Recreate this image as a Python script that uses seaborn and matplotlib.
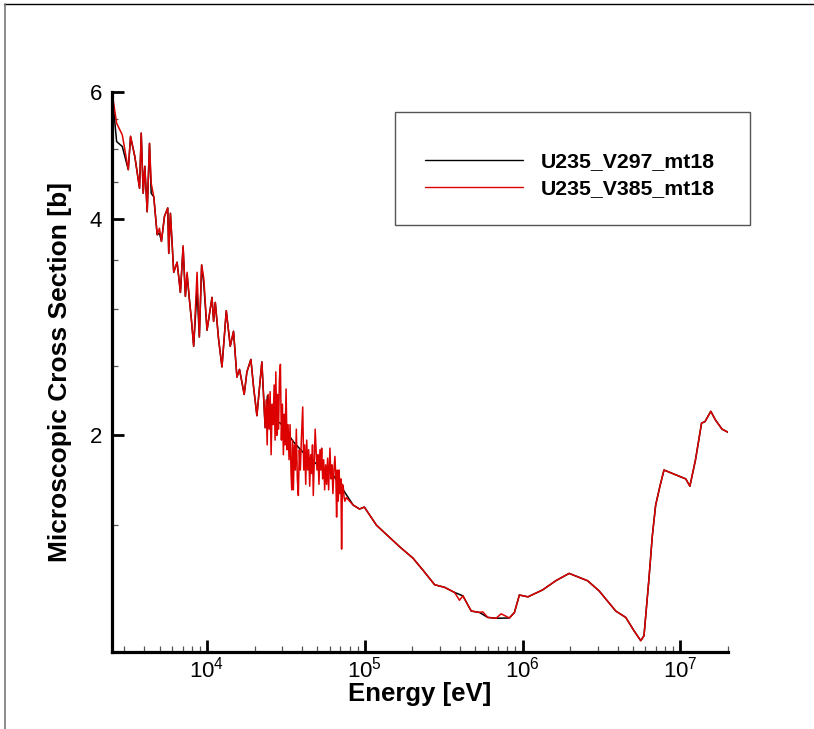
import matplotlib
matplotlib.use("Agg")
import numpy as np
import pandas as pd
import matplotlib.pyplot as plt
from matplotlib.lines import Line2D
from matplotlib.patches import Rectangle
from matplotlib.ticker import (FixedLocator, FixedFormatter, LogLocator,
                               NullFormatter, LogFormatterSciNotation)
import seaborn as sns

# ---- U-235 fission (MT18) cross section, two library versions ----
# resolved / unresolved resonance region below ~23 keV (same energy grid)
low_energy = [2500, 2674, 2905, 3170, 3277, 3488, 3736, 3830, 3942, 4035,
              4178, 4320, 4429, 4600, 4832, 4996, 5144, 5374, 5638, 5721,
              5863, 6152, 6464, 6782, 7054, 7294, 7477, 7731, 7959, 8231,
              8647, 8941, 9245, 9545, 10000, 10754, 11008, 11284, 11838, 12437,
              13245, 14033, 14723, 15470, 16066, 17202, 17893, 18966, 19700, 20700,
              22258]
low_v297 = [6.00, 5.12, 5.04, 4.68, 5.20, 4.88, 4.41, 5.26, 4.34, 4.73,
            4.09, 5.09, 4.34, 4.29, 3.80, 3.82, 3.72, 4.03, 4.14, 3.58,
            4.07, 3.37, 3.48, 3.16, 3.65, 3.12, 3.34, 3.09, 2.90, 2.66,
            3.19, 2.74, 3.45, 3.24, 2.80, 3.11, 2.88, 3.06, 2.72, 2.49,
            2.98, 2.66, 2.79, 2.41, 2.47, 2.28, 2.45, 2.55, 2.34, 2.13,
            2.53]
low_v385 = [6.00, 5.43, 5.23, 4.68, 5.21, 4.88, 4.41, 5.26, 4.34, 4.73,
            4.09, 5.09, 4.48, 4.29, 3.80, 3.88, 3.72, 4.03, 4.14, 3.58,
            4.07, 3.37, 3.48, 3.16, 3.67, 3.12, 3.37, 3.09, 2.90, 2.66,
            3.37, 2.74, 3.45, 3.30, 2.80, 3.11, 2.88, 3.06, 2.72, 2.49,
            2.98, 2.66, 2.79, 2.41, 2.47, 2.28, 2.45, 2.55, 2.34, 2.13,
            2.53]

# 23 keV - 100 keV: smooth in V297, fluctuating in V385
mid_energy_v297 = [23357, 24150, 25114, 26345, 29170, 35240, 42820, 51950,
                   63050, 72920, 84360, 92570, 99270]
mid_v297 = [2.05, 2.27, 2.14, 2.10, 2.08, 1.96, 1.87, 1.81,
            1.76, 1.68, 1.60, 1.58, 1.59]

mid_energy_v385 = [23357, 23700, 24050, 24400, 24750, 25110, 25480, 25850, 26230, 26620,
                   27000, 27280, 27680, 28000, 28410, 28750, 29170, 29600, 30030, 30470,
                   30870, 31230, 31690, 32150, 32620, 33100, 33580, 34080, 34420, 34830,
                   35240, 35760, 36280, 36810, 37350, 37900, 38450, 39020, 39590, 40400,
                   41000, 41600, 42210, 42820, 43450, 44080, 44730, 45380, 46050, 46590,
                   47130, 47820, 48450, 49740, 50460, 51200, 51950, 52710, 53250, 54030,
                   54830, 55630, 56440, 57270, 58110, 58960, 60090, 60970, 61860, 62770,
                   63690, 64620, 65570, 66240, 67020, 67800, 68690, 69500, 70520, 71240,
                   72070, 72920, 73880, 74740, 76390, 78080, 84360, 92570, 99270]
mid_v385 = [2.05, 2.24, 1.94, 2.28, 2.04, 2.30, 1.88, 2.21, 2.07, 2.35,
            1.97, 2.45, 2.00, 2.28, 2.04, 2.39, 2.51, 1.97, 2.21, 1.88,
            2.14, 1.94, 2.32, 1.91, 2.07, 1.85, 2.07, 1.77, 1.68, 1.97,
            1.68, 1.94, 1.79, 2.04, 1.74, 1.65, 1.91, 1.79, 1.97, 2.19,
            1.79, 1.94, 1.71, 1.97, 1.79, 1.91, 1.70, 1.88, 1.77, 1.94,
            1.65, 1.85, 2.04, 1.79, 1.88, 1.71, 1.91, 1.79, 1.92, 1.74,
            1.85, 1.68, 1.82, 1.71, 1.86, 1.68, 1.92, 1.74, 1.82, 1.66,
            1.79, 1.87, 1.74, 1.54, 1.79, 1.62, 1.79, 1.66, 1.74, 1.39,
            1.71, 1.70, 1.64, 1.62, 1.64, 1.63, 1.60, 1.58, 1.59]

# fast region, 100 keV - 20 MeV (first, second and third chance fission)
high_energy_v297 = [118570, 166400, 202000, 233000, 277000, 320000, 370000, 418000,
                    472000, 532000, 601000, 679000, 824000, 887000, 953000, 1080000,
                    1340000, 1620000, 1970000, 2580000, 3050000, 3890000, 4500000,
                    5080000, 5600000, 5870000, 6310000, 6630000, 6960000, 7410000,
                    7860000, 10800000, 11470000, 12450000, 13600000, 14300000,
                    15560000, 16670000, 18340000, 20000000]
high_v297 = [1.50, 1.40, 1.35, 1.30, 1.24, 1.23, 1.21, 1.197,
             1.14, 1.135, 1.117, 1.114, 1.115, 1.135, 1.20, 1.193,
             1.22, 1.256, 1.286, 1.256, 1.216, 1.14, 1.117,
             1.07, 1.037, 1.053, 1.263, 1.45, 1.60, 1.70,
             1.79, 1.74, 1.70, 1.85, 2.08, 2.09,
             2.16, 2.10, 2.04, 2.02]

high_energy_v385 = [118570, 166400, 202000, 233000, 277000, 320000, 370000, 398000,
                    418000, 472000, 532000, 559000, 601000, 679000, 730000, 824000,
                    887000, 953000, 1080000, 1340000, 1620000, 1970000, 2580000,
                    3050000, 3890000, 4500000, 5080000, 5600000, 5870000, 6310000,
                    6630000, 6960000, 7410000, 7860000, 10800000, 11470000,
                    12450000, 13600000, 14300000, 15560000, 16670000, 18340000,
                    20000000]
high_v385 = [1.50, 1.40, 1.35, 1.30, 1.24, 1.23, 1.21, 1.18,
             1.197, 1.14, 1.135, 1.137, 1.117, 1.114, 1.13, 1.115,
             1.135, 1.20, 1.193, 1.22, 1.256, 1.286, 1.256,
             1.216, 1.14, 1.117, 1.07, 1.037, 1.053, 1.263,
             1.45, 1.60, 1.70, 1.79, 1.74, 1.70,
             1.85, 2.08, 2.09, 2.16, 2.10, 2.04,
             2.02]

series_names = ["U235_V297_mt18", "U235_V385_mt18"]
series_colors = {"U235_V297_mt18": "#000000", "U235_V385_mt18": "#dd0000"}

y_major = [2, 4, 6]
y_minor = [1.5, 2.5, 3, 3.5, 4.5, 5, 5.5]

# ---- assemble long-form table ----
frames = []
for name, e_parts, v_parts in [
        (series_names[0], [low_energy, mid_energy_v297, high_energy_v297],
         [low_v297, mid_v297, high_v297]),
        (series_names[1], [low_energy, mid_energy_v385, high_energy_v385],
         [low_v385, mid_v385, high_v385])]:
    e = np.concatenate([np.asarray(p, float) for p in e_parts])
    v = np.concatenate([np.asarray(p, float) for p in v_parts])
    frames.append(pd.DataFrame({"energy": e, "xs": v, "series": name}))
df = pd.concat(frames, ignore_index=True)

# ---- style ----
sns.set_style("white")
plt.rcParams["font.family"] = ["Liberation Sans", "DejaVu Sans"]
plt.rcParams["mathtext.fontset"] = "custom"
plt.rcParams["mathtext.rm"] = "Liberation Sans"
plt.rcParams["mathtext.it"] = "Liberation Sans:italic"
plt.rcParams["mathtext.bf"] = "Liberation Sans:bold"
plt.rcParams["text.color"] = "black"
plt.rcParams["axes.labelcolor"] = "black"
plt.rcParams["xtick.direction"] = "in"
plt.rcParams["ytick.direction"] = "in"
plt.rcParams["xtick.bottom"] = True
plt.rcParams["ytick.left"] = True

W, H = 814, 729
fig = plt.figure(figsize=(W / 100, H / 100), dpi=100)
ax = fig.add_axes([112 / W, 1 - 652 / H, 616 / W, 560 / H])

sns.lineplot(data=df, x="energy", y="xs", hue="series", hue_order=series_names,
             palette=series_colors, estimator=None, sort=False, linewidth=1.1,
             legend=False, ax=ax)

ax.set_xscale("log")
ax.set_yscale("log")
ax.set_xlim(2.5e3, 2.0e7)
ax.set_ylim(1.0, 6.0)

ax.xaxis.set_major_locator(LogLocator(base=10))
ax.xaxis.set_major_formatter(LogFormatterSciNotation(base=10))
ax.xaxis.set_minor_locator(LogLocator(base=10, subs=np.arange(2, 10)))
ax.xaxis.set_minor_formatter(NullFormatter())

ax.yaxis.set_major_locator(FixedLocator(y_major))
ax.yaxis.set_major_formatter(FixedFormatter([str(v) for v in y_major]))
ax.yaxis.set_minor_locator(FixedLocator(y_minor))
ax.yaxis.set_minor_formatter(NullFormatter())

for side in ["top", "right"]:
    ax.spines[side].set_visible(False)
for side in ["left", "bottom"]:
    ax.spines[side].set_linewidth(2.3)
    ax.spines[side].set_color("black")

ax.tick_params(which="both", direction="in", bottom=True, left=True,
               top=False, right=False)
ax.tick_params(which="major", length=8.5, width=2.0,
               color="black", labelsize=16, labelcolor="black")
ax.tick_params(which="minor", length=4.5, width=0.9, color="#555555")
ax.tick_params(axis="x", which="major", pad=3)
ax.tick_params(axis="y", which="major", pad=7)

ax.set_xlabel("Energy [eV]", fontsize=18.5, fontweight="bold", labelpad=0,
              color="black")
ax.set_ylabel("Microscopic Cross Section [b]", fontsize=19,
              fontweight="bold", labelpad=13, color="black")

# ---- legend box ----
fig.add_artist(Rectangle((395 / W, 1 - 225 / H), 355 / W, 113.3 / H,
                         transform=fig.transFigure, fill=False,
                         edgecolor="#555555", linewidth=1.0))
handles = [Line2D([], [], color=series_colors[n], linewidth=1.0) for n in series_names]
leg = fig.legend(handles, series_names, loc="upper left",
                 bbox_to_anchor=(425 / W, 1 - 152 / H), frameon=False,
                 prop={"size": 15.3, "weight": "bold"}, handlelength=4.6,
                 handletextpad=0.85, labelspacing=0.38, borderpad=0,
                 borderaxespad=0)
for t in leg.get_texts():
    t.set_color("black")

# ---- outer frame edges ----
fig.add_artist(Line2D([4 / W, 1], [1 - 4 / H, 1 - 4 / H],
                      transform=fig.transFigure, color="black", linewidth=1.0))
fig.add_artist(Line2D([4.5 / W, 4.5 / W], [0, 1 - 4 / H],
                      transform=fig.transFigure, color="#777777", linewidth=1.2))

fig.savefig("out.png", dpi=100)
